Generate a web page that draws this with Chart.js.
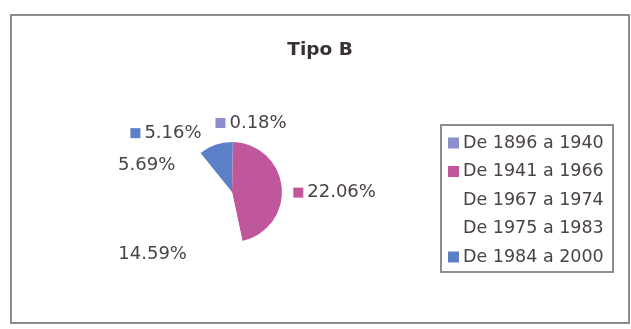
<!DOCTYPE html>
<html>
<head>
<meta charset="utf-8">
<script src="https://cdn.jsdelivr.net/npm/chart.js@4.4.1/dist/chart.umd.min.js"></script>
<style>
  html, body { margin: 0; padding: 0; background: #ffffff; }
  #wrap { width: 631px; height: 329px; position: relative; }
</style>
</head>
<body>
<div id="wrap"><canvas id="c" width="631" height="329"></canvas></div>
<script>
// ---- data ----
const categories = ["De 1896 a 1940", "De 1941 a 1966", "De 1967 a 1974", "De 1975 a 1983", "De 1984 a 2000"];
const values = [0.18, 22.06, 14.59, 5.69, 5.16];
const valueLabels = ["0.18%", "22.06%", "14.59%", "5.69%", "5.16%"];
const sliceColors = ["#8d8ed0", "#c0579a", "#ffffff", "#ffffff", "#5b80c8"];
const chartTitle = "Tipo B";

const TEXT = "#4a4248";

const framePlugin = {
  id: "frame",
  beforeDraw(chart) {
    const ctx = chart.ctx;
    ctx.save();
    ctx.fillStyle = "#ffffff";
    ctx.fillRect(0, 0, chart.width, chart.height);
    ctx.strokeStyle = "#8c8c8c";
    ctx.lineWidth = 2;
    ctx.strokeRect(11, 15, 618, 308);
    ctx.restore();
  },
  afterDraw(chart) {
    const ctx = chart.ctx;
    ctx.save();
    // title
    ctx.fillStyle = "#3a3038";
    ctx.font = "bold 18.5px 'DejaVu Sans'";
    ctx.textAlign = "center";
    ctx.textBaseline = "alphabetic";
    ctx.fillText(chartTitle, 320, 55);

    // data labels
    const opts = chart.options.plugins.frame;
    const meta = chart.getDatasetMeta(0);
    ctx.font = "18px 'DejaVu Sans'";
    ctx.textBaseline = "middle";
    ctx.textAlign = "left";
    meta.data.forEach((arc, i) => {
      const p = arc.getProps(["x", "y", "startAngle", "endAngle", "outerRadius"], true);
      const mid = (p.startAngle + p.endAngle) / 2;
      const d = p.outerRadius * opts.labelDist;
      const nudge = opts.labelNudge[i];
      const cx = p.x + Math.cos(mid) * d + nudge[0];
      const cy = p.y + Math.sin(mid) * d + nudge[1];
      const txt = valueLabels[i];
      const tw = ctx.measureText(txt).width;
      const col = sliceColors[i];
      const hasMarker = col.toLowerCase() !== "#ffffff";
      const mw = hasMarker ? 10 + 4 : 0;
      const left = cx - (mw + tw) / 2;
      if (hasMarker) {
        ctx.fillStyle = col;
        ctx.fillRect(left, cy - 5, 10, 10);
      }
      ctx.fillStyle = TEXT;
      ctx.fillText(txt, left + mw, cy);
    });

    // legend
    const L = opts.legendBox;
    ctx.strokeStyle = "#8c8c8c";
    ctx.lineWidth = 2;
    ctx.strokeRect(L.x, L.y, L.w, L.h);
    ctx.font = "17.5px 'DejaVu Sans'";
    chart.data.labels.forEach((lab, i) => {
      const y = L.firstY + i * L.step;
      const col = chart.data.datasets[0].backgroundColor[i];
      if (col.toLowerCase() !== "#ffffff") {
        ctx.fillStyle = col;
        ctx.fillRect(L.x + 7, y - 5.5, 11, 11);
      }
      ctx.fillStyle = TEXT;
      ctx.fillText(lab, L.x + 22, y);
    });
    ctx.restore();
  }
};

new Chart(document.getElementById("c"), {
  type: "pie",
  data: {
    labels: categories,
    datasets: [{
      data: values,
      backgroundColor: sliceColors,
      borderWidth: 0
    }]
  },
  options: {
    responsive: false,
    animation: false,
    layout: { padding: { left: 182, right: 349, top: 142, bottom: 87 } },
    plugins: {
      legend: { display: false },
      tooltip: { enabled: false },
      title: { display: false },
      frame: {
        labelDist: 1.8,
        labelNudge: [[18, 21], [13, 9], [-18, -3], [-7, 18], [-36, 26]],
        legendBox: { x: 441, y: 125, w: 172, h: 147, firstY: 143, step: 28.5 }
      }
    }
  },
  plugins: [framePlugin]
});
</script>
</body>
</html>
